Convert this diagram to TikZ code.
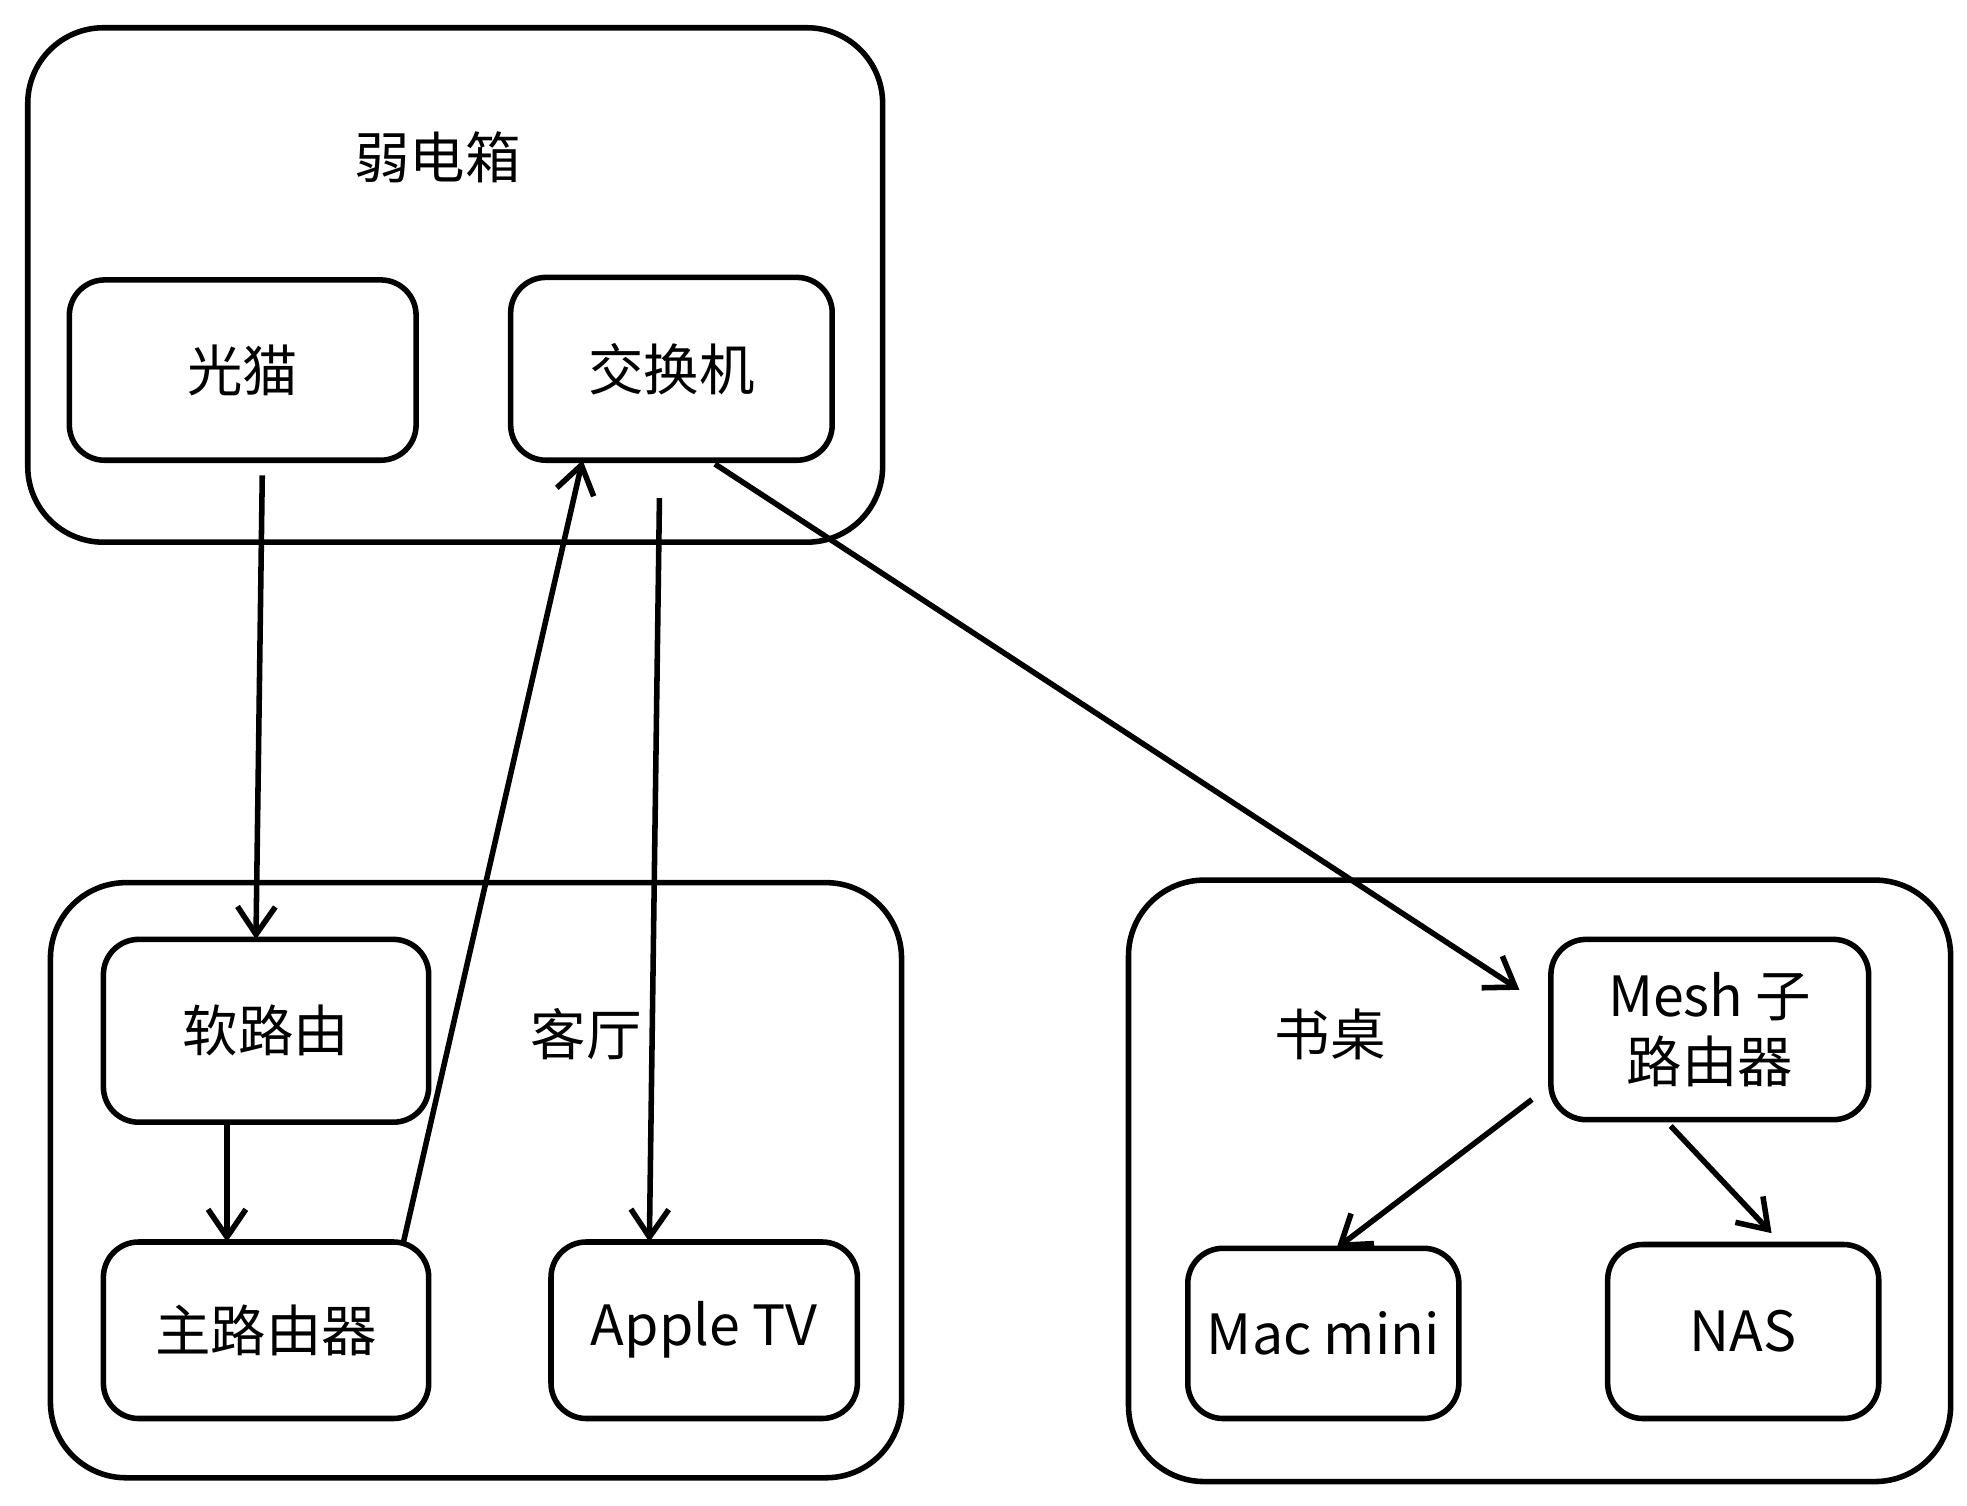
\documentclass[tikz,border=0pt]{standalone}
\usepackage{fontspec}
\setmainfont{Noto Sans CJK SC}
\usetikzlibrary{arrows.meta}
\begin{document}
\begin{tikzpicture}[x=0.5pt,y=-0.5pt,
  box/.style={draw,line width=2.2pt,rounded corners=14pt,inner sep=0pt},
  outer/.style={draw,line width=2.2pt,rounded corners=30pt},
  lbl/.style={font=\fontsize{22}{26}\selectfont},
  arr/.style={line width=2.2pt,-{Straight Barb[length=11pt,width=15pt]}}]
\useasboundingbox (0,0) rectangle (1560,1194);
\draw[outer] (22,22) rectangle (700,430);
\node[lbl] (t1) at (347,125) {弱电箱};
\draw[outer] (40,700) rectangle (715,1172);
\node[lbl] (t2) at (465,820) {客厅};
\draw[outer] (895,698) rectangle (1547,1175);
\node[lbl] (t3) at (1055,820) {书桌};
\draw[box] (55,222) rectangle (330,365) node[lbl,midway] (gm) {光猫};
\draw[box] (405,220) rectangle (660,365) node[lbl,midway] (sw) {交换机};
\draw[box] (82,745) rectangle (340,890) node[lbl,midway] (sr) {软路由};
\draw[box] (82,985) rectangle (340,1125) node[lbl,midway] (mr) {主路由器};
\draw[box] (437,985) rectangle (680,1125) node[lbl,midway] (tv) {Apple TV};
\draw[box] (1230,745) rectangle (1482,888) node[lbl,midway,align=center] (mesh) {Mesh 子\\路由器};
\draw[box] (942,990) rectangle (1157,1125) node[lbl,midway] (mm) {Mac mini};
\draw[box] (1275,987) rectangle (1490,1125) node[lbl,midway] (nas) {NAS};
\coordinate (a1) at (208,377); \coordinate (b1) at (203,745);
\coordinate (a2) at (180,890); \coordinate (b2) at (180,985);
\coordinate (a3) at (320,985); \coordinate (b3) at (462,365);
\coordinate (a4) at (523,395); \coordinate (b4) at (515,985);
\coordinate (a5) at (567,368); \coordinate (b5) at (1205,785);
\coordinate (a6) at (1215,872); \coordinate (b6) at (1060,990);
\coordinate (a7) at (1325,893); \coordinate (b7) at (1405,978);
\draw[arr] (a1) -- (b1);
\draw[arr] (a2) -- (b2);
\draw[arr] (a3) -- (b3);
\draw[arr] (a4) -- (b4);
\draw[arr] (a5) -- (b5);
\draw[arr] (a6) -- (b6);
\draw[arr] (a7) -- (b7);
\end{tikzpicture}
\end{document}
